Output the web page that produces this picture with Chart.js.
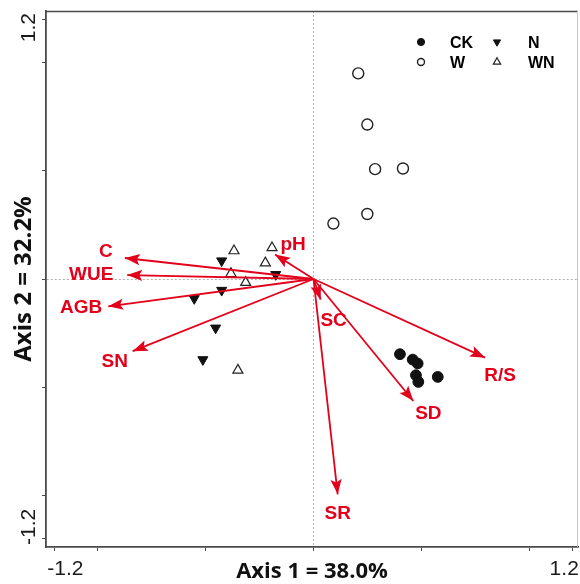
<!DOCTYPE html>
<html><head><meta charset="utf-8">
<script src="https://cdn.jsdelivr.net/npm/chart.js@4.4.1/dist/chart.umd.min.js"></script>
<style>html,body{margin:0;padding:0;background:#fff}#wrap{width:580px;height:584px}</style>
</head><body><div id="wrap"><canvas id="c" width="580" height="584"></canvas></div>
<script>
// ---- data ----
const groups = ['CK', 'N', 'W', 'WN'];
const ckX = [0.400, 0.459, 0.482, 0.474, 0.485, 0.575];
const ckY = [-0.347, -0.372, -0.390, -0.444, -0.475, -0.452];
const nX = [-0.425, -0.175, -0.425, -0.552, -0.453, -0.512];
const nY = [0.084, 0.021, -0.052, -0.090, -0.226, -0.372];
const wX = [0.207, 0.249, 0.285, 0.414, 0.249, 0.092];
const wY = [0.949, 0.713, 0.507, 0.510, 0.300, 0.256];
const wnX = [-0.368, -0.192, -0.223, -0.382, -0.314, -0.350];
const wnY = [0.130, 0.144, 0.074, 0.025, -0.016, -0.421];
const variables = ['C', 'WUE', 'AGB', 'SN', 'pH', 'SC', 'SR', 'SD', 'R/S'];
const loadX = [-0.873, -0.862, -0.950, -0.837, -0.178, 0.033, 0.112, 0.462, 0.794];
const loadY = [0.097, 0.018, -0.126, -0.333, 0.113, -0.095, -0.994, -0.563, -0.363];
const tickValues = [-1.2, -1.0, -0.5, 0, 0.5, 1.0, 1.2];
const labeledTicks = [-1.2, 1.2];
const axisTitleX = 'Axis 1 = 38.0%';
const axisTitleY = 'Axis 2 = 32.2%';

// ---- styles ----
const RED = '#E3001B';
const INK = '#111111';
const AXIS = '#4a4a4a';
const toPts = (xs, ys) => xs.map((x, i) => ({ x, y: ys[i] }));
const groupStyles = {
  CK: { pointStyle: 'circle', radius: 5.4, rotation: 0, fill: INK, border: INK, bw: 1, lr: 3.6 },
  N:  { pointStyle: 'triangle', radius: 5.8, rotation: 180, fill: INK, border: INK, bw: 1, lr: 4.2 },
  W:  { pointStyle: 'circle', radius: 5.5, rotation: 0, fill: 'rgba(0,0,0,0)', border: '#222', bw: 1.4, lr: 3.5 },
  WN: { pointStyle: 'triangle', radius: 5.8, rotation: 0, fill: 'rgba(0,0,0,0)', border: '#222', bw: 1.2, lr: 4.2 }
};
const groupData = { CK: toPts(ckX, ckY), N: toPts(nX, nY), W: toPts(wX, wY), WN: toPts(wnX, wnY) };

const datasets = groups.map(g => {
  const s = groupStyles[g];
  return {
    label: g, data: groupData[g], order: 2,
    pointStyle: s.pointStyle, pointRadius: s.radius, pointRotation: s.rotation,
    backgroundColor: s.fill, borderColor: s.border, pointBorderWidth: s.bw,
    pointHoverRadius: s.radius
  };
});
variables.forEach((v, i) => {
  datasets.push({
    label: v, isArrow: true, order: 1,
    data: [{ x: 0, y: 0 }, { x: loadX[i], y: loadY[i] }],
    showLine: true, borderColor: RED, borderWidth: 1.8, pointRadius: 0,
    borderCapStyle: 'butt', backgroundColor: RED
  });
});

const arrowLabelOffsets = { 'C': [-19, -8], 'WUE': [-36, -2], 'AGB': [-27, 0], 'SN': [-18, 9],
  'pH': [18, -12], 'SC': [13, 19], 'SR': [0, 18], 'SD': [15, 11], 'R/S': [15, 16] };

const biplotPlugin = {
  id: 'biplot',
  afterDatasetsDraw(chart) {
    const ctx = chart.ctx;
    chart.data.datasets.forEach((ds, i) => {
      if (!ds.isArrow) return;
      const meta = chart.getDatasetMeta(i);
      const p0 = meta.data[0], p1 = meta.data[1];
      const ang = Math.atan2(p1.y - p0.y, p1.x - p0.x);
      const L = 15, W = 5.6;
      const c = Math.cos(ang), s = Math.sin(ang);
      ctx.save();
      ctx.fillStyle = RED;
      ctx.beginPath();
      ctx.moveTo(p1.x, p1.y);
      ctx.lineTo(p1.x - L * c + W * s, p1.y - L * s - W * c);
      ctx.lineTo(p1.x - L * c * 0.8, p1.y - L * s * 0.8);
      ctx.lineTo(p1.x - L * c - W * s, p1.y - L * s + W * c);
      ctx.closePath();
      ctx.fill();
      const off = arrowLabelOffsets[ds.label];
      ctx.font = 'bold 19px "Liberation Sans", Arial, sans-serif';
      ctx.textAlign = 'center';
      ctx.textBaseline = 'alphabetic';
      ctx.fillText(ds.label, p1.x + off[0], p1.y + off[1] + 7);
      ctx.restore();
    });
  },
  afterDraw(chart) {
    const ctx = chart.ctx;
    const a = chart.chartArea;
    const xs = chart.scales.x, ys = chart.scales.y;
    ctx.save();
    // top and right frame
    ctx.strokeStyle = AXIS; ctx.lineWidth = 1.5;
    ctx.beginPath(); ctx.moveTo(a.left, a.top + 0.5); ctx.lineTo(a.right, a.top + 0.5); ctx.stroke();
    ctx.strokeStyle = '#c4c4c4'; ctx.lineWidth = 1;
    ctx.beginPath(); ctx.moveTo(a.right - 0.5, a.top); ctx.lineTo(a.right - 0.5, a.bottom); ctx.stroke();
    // tick labels
    ctx.fillStyle = '#1a1a1a';
    ctx.font = '21px "Liberation Sans", Arial, sans-serif';
    ctx.textBaseline = 'alphabetic';
    labeledTicks.forEach(v => {
      const txt = v.toFixed(1);
      const px = xs.getPixelForValue(v);
      ctx.textAlign = v < 0 ? 'left' : 'right';
      ctx.fillText(txt, px + (v < 0 ? -7 : 6), 575);
      const py = ys.getPixelForValue(v);
      ctx.save();
      ctx.translate(35, v > 0 ? py - 6 : py + 6);
      ctx.rotate(-Math.PI / 2);
      ctx.textAlign = v > 0 ? 'right' : 'left';
      ctx.fillText(txt, 0, 0);
      ctx.restore();
    });
    // legend (2 x 2)
    const colMark = [421, 497], colText = [450, 528], rowY = [42, 62];
    groups.forEach((g, i) => {
      const s = groupStyles[g];
      const mx = colMark[i % 2], my = rowY[Math.floor(i / 2)];
      ctx.fillStyle = s.fill; ctx.strokeStyle = s.border; ctx.lineWidth = s.bw;
      Chart.helpers.drawPoint(ctx, { pointStyle: s.pointStyle, radius: s.lr, rotation: s.rotation, borderWidth: s.bw }, mx, my);
      ctx.fillStyle = '#000';
      ctx.font = 'bold 16px "Liberation Sans", Arial, sans-serif';
      ctx.textAlign = 'left'; ctx.textBaseline = 'alphabetic';
      ctx.fillText(g, colText[i % 2], my + 6);
    });
    ctx.restore();
  }
};

const zeroGrid = c => (c.tick && Math.abs(c.tick.value) < 1e-9) ? '#b0b0b0' : 'rgba(0,0,0,0)';
const setTicks = s => { s.ticks = tickValues.map(v => ({ value: v })); };

new Chart(document.getElementById('c'), {
  type: 'scatter',
  data: { datasets },
  options: {
    responsive: false, animation: false, devicePixelRatio: 1, events: [],
    layout: { autoPadding: false, padding: { top: 11, right: 2, left: 0, bottom: 0 } },
    plugins: { legend: { display: false }, tooltip: { enabled: false } },
    scales: {
      x: {
        type: 'linear', position: 'bottom', min: -1.238, max: 1.224,
        afterBuildTicks: setTicks,
        afterFit: s => { s.height = 37; },
        ticks: { display: false },
        grid: { color: zeroGrid, lineWidth: 1, tickColor: AXIS, tickLength: 4, tickWidth: 1 },
        border: { display: true, color: AXIS, width: 1.8, dash: [2, 2] },
        title: { display: true, text: axisTitleX, color: '#111',
          font: { family: '"Open Sans", "Liberation Sans", sans-serif', size: 22, weight: 'bold', lineHeight: 1.2 },
          padding: { top: 0, bottom: -1 } }
      },
      y: {
        type: 'linear', position: 'left', min: -1.237, max: 1.237,
        afterBuildTicks: setTicks,
        afterFit: s => { s.width = 46; },
        ticks: { display: false },
        grid: { color: zeroGrid, lineWidth: 1, tickColor: AXIS, tickLength: 4, tickWidth: 1 },
        border: { display: true, color: AXIS, width: 1.8, dash: [2, 2] },
        title: { display: true, text: axisTitleY, color: '#111',
          font: { family: '"Open Sans", "Liberation Sans", sans-serif', size: 24, weight: 'bold', lineHeight: 1.2 },
          padding: { top: 10, bottom: 0 } }
      }
    }
  },
  plugins: [biplotPlugin]
});
</script>
</body></html>
